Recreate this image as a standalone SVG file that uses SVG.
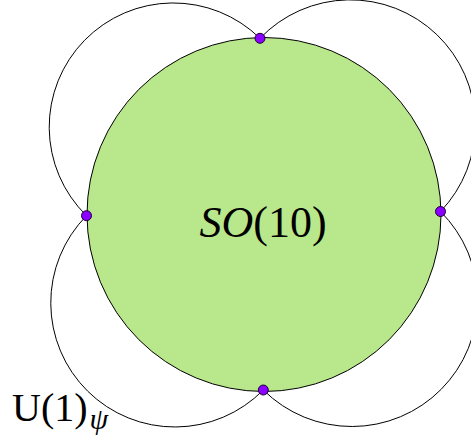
<svg xmlns="http://www.w3.org/2000/svg" width="471" height="446" viewBox="0 0 471 446">
<style>
.lobe{fill:none;stroke:#000;stroke-width:1}
.main{fill:#b9e78b;stroke:#000;stroke-width:1}
.dot{fill:#8b00ff;stroke:#1a0033;stroke-width:1}
.lbl{font-family:"Liberation Serif","DejaVu Serif",serif;fill:#000}
</style>
<rect width="471" height="446" fill="#fff"/>
<g id="connectors">
<path class="lobe" d="M86.5 215.7 A124 124 0 0 1 260 38.3"/>
<path class="lobe" d="M260 38.3 A125 125 0 0 1 440.5 211.5"/>
<path class="lobe" d="M440.5 211.5 A125 125 0 0 1 263.3 390"/>
<path class="lobe" d="M263.3 390 A124 124 0 0 1 86.5 215.7"/>
</g>
<g id="so10">
<circle class="main" cx="264" cy="214.5" r="177"/>
<text class="lbl" x="263" y="237" font-size="44" text-anchor="middle"><tspan font-style="italic">SO</tspan>(10)</text>
</g>
<g id="dot-top"><circle class="dot" cx="260" cy="38.3" r="5"/></g>
<g id="dot-left"><circle class="dot" cx="86.5" cy="215.7" r="5"/></g>
<g id="dot-right"><circle class="dot" cx="440.5" cy="211.5" r="5"/></g>
<g id="dot-bottom"><circle class="dot" cx="263.3" cy="390" r="5"/></g>
<g id="u1psi">
<text class="lbl" x="12" y="421" font-size="40">U(1)<tspan font-style="italic" font-size="30" dx="2" dy="8">ψ</tspan></text>
</g>
</svg>
